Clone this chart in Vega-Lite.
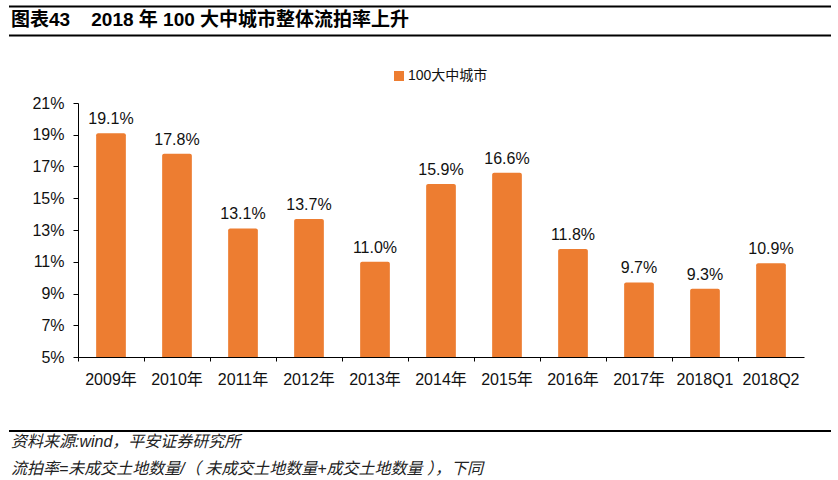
{
  "$schema": "https://vega.github.io/schema/vega-lite/v6.json",
  "background": "white",
  "padding": {"left": 8, "right": 8, "top": 5, "bottom": 0},
  "config": {
    "view": {"stroke": null},
    "font": "Liberation Sans, Noto Sans CJK SC",
    "text": {"font": "Liberation Sans, Noto Sans CJK SC", "color": "#111"},
    "axis": {"labelFont": "Liberation Sans, Noto Sans CJK SC", "labelColor": "#111", "domainColor": "#000", "tickColor": "#000", "grid": false},
    "legend": {"labelFont": "Liberation Sans, Noto Sans CJK SC", "labelColor": "#111"},
    "title": {"font": "Liberation Sans, Noto Sans CJK SC", "color": "#111"}
  },
  "spacing": 32,
  "resolve": {"legend": {"fill": "independent"}},
  "vconcat": [
    {
      "width": 822,
      "height": 32,
      "layer": [
        {
          "data": {"values": [{"edge": 1}]},
          "mark": {"type": "rule", "color": "#000", "strokeWidth": 2},
          "encoding": {
            "y": {"field": "edge", "type": "quantitative", "scale": {"domain": [-0.05, 1.05], "nice": false, "zero": false}, "axis": null}
          }
        },
        {
          "data": {"values": [{"edge": 0}]},
          "mark": {"type": "rule", "color": "#000", "strokeWidth": 2},
          "encoding": {
            "y": {"field": "edge", "type": "quantitative"}
          }
        }
      ],
      "title": {
        "text": "图表43\u00a0\u00a0\u00a0\u00a02018\u00a0年\u00a0100\u00a0大中城市整体流拍率上升",
        "orient": "bottom",
        "anchor": "start",
        "baseline": "top",
        "offset": -26,
        "dx": 3,
        "fontSize": 19,
        "fontWeight": "bold",
        "color": "#000"
      }
    },
    {
      "spacing": 43,
      "resolve": {"legend": {"fill": "independent"}},
      "vconcat": [
        {
          "width": 822,
          "height": 254,
          "data": {
            "values": [
              {"period": "2009年", "rate": 0.191, "series": "100大中城市"},
              {"period": "2010年", "rate": 0.178, "series": "100大中城市"},
              {"period": "2011年", "rate": 0.131, "series": "100大中城市"},
              {"period": "2012年", "rate": 0.137, "series": "100大中城市"},
              {"period": "2013年", "rate": 0.110, "series": "100大中城市"},
              {"period": "2014年", "rate": 0.159, "series": "100大中城市"},
              {"period": "2015年", "rate": 0.166, "series": "100大中城市"},
              {"period": "2016年", "rate": 0.118, "series": "100大中城市"},
              {"period": "2017年", "rate": 0.097, "series": "100大中城市"},
              {"period": "2018Q1", "rate": 0.093, "series": "100大中城市"},
              {"period": "2018Q2", "rate": 0.109, "series": "100大中城市"}
            ]
          },
          "encoding": {
            "x": {
              "field": "period",
              "type": "nominal",
              "sort": null,
              "scale": {"range": [69, 795], "paddingInner": 0, "paddingOuter": 0},
              "axis": {
                "title": null,
                "labelAngle": 0,
                "bandPosition": 0,
                "tickSize": 4,
                "labelPadding": 10,
                "labelFontSize": 16
              }
            },
            "y": {
              "field": "rate",
              "type": "quantitative",
              "scale": {"domain": [0.05, 0.21]},
              "axis": {
                "title": null,
                "offset": -69,
                "values": [0.05, 0.07, 0.09, 0.11, 0.13, 0.15, 0.17, 0.19, 0.21],
                "format": ".0%",
                "tickSize": 5,
                "labelPadding": 9,
                "labelFontSize": 16
              }
            }
          },
          "layer": [
            {
              "mark": {"type": "bar", "width": {"band": 0.45}, "cornerRadiusTopLeft": 2, "cornerRadiusTopRight": 2},
              "encoding": {
                "y2": {"datum": 0.05},
                "fill": {
                  "field": "series",
                  "type": "nominal",
                  "scale": {"range": ["#ED7D31"]},
                  "legend": {
                    "title": null,
                    "orient": "none",
                    "legendX": 383,
                    "legendY": -34,
                    "symbolType": "square",
                    "symbolSize": 100,
                    "symbolStrokeWidth": 0,
                    "labelFontSize": 14,
                    "labelOffset": 2
                  }
                }
              }
            },
            {
              "mark": {"type": "text", "baseline": "alphabetic", "dy": -9, "fontSize": 16},
              "encoding": {
                "text": {"field": "rate", "type": "quantitative", "format": ".1%"}
              }
            }
          ]
        },
        {
          "width": 822,
          "height": 50,
          "data": {"values": [{"edge": 1}]},
          "mark": {"type": "rule", "color": "#000", "strokeWidth": 2},
          "encoding": {
            "y": {"field": "edge", "type": "quantitative", "scale": {"domain": [0, 1], "nice": false, "zero": false}, "axis": null}
          },
          "title": {
            "text": ["资料来源:wind，平安证券研究所", "流拍率=未成交土地数量/（ 未成交土地数量+成交土地数量 ），下同"],
            "orient": "bottom",
            "anchor": "start",
            "baseline": "top",
            "offset": -47,
            "dx": 3,
            "lineHeight": 27,
            "fontSize": 16,
            "fontStyle": "italic",
            "fontWeight": "normal",
            "color": "#222"
          }
        }
      ]
    }
  ]
}
